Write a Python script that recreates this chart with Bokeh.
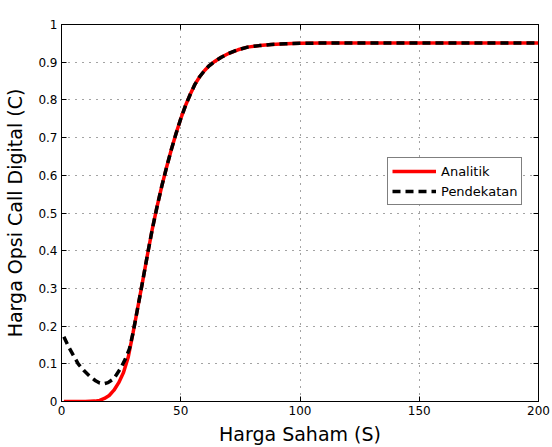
from bokeh.plotting import figure
from bokeh.models import (Range1d, FixedTicker, CustomJSTickFormatter, LinearAxis,
                          Legend, LegendItem)
from bokeh.embed import file_html
from bokeh.resources import INLINE

# ---- data ----
s_analitik = [1, 5, 10, 14, 16, 18, 20, 22, 24, 26, 28, 30, 32, 34, 36,
              38, 40, 42, 44, 46, 48, 50, 52, 54, 56, 58, 60, 62, 64, 67, 70, 74,
              78, 83, 88, 94, 100, 110, 125, 150, 175, 200]
c_analitik = [0, 0, 0, 0.001, 0.003, 0.008, 0.016, 0.03, 0.05, 0.077, 0.118, 0.182,
              0.25, 0.318, 0.388, 0.455, 0.515, 0.57, 0.62, 0.667, 0.71, 0.75, 0.785,
              0.815, 0.842, 0.862, 0.878, 0.891, 0.901, 0.913, 0.923, 0.933, 0.94,
              0.944, 0.947, 0.949, 0.95, 0.951, 0.951, 0.951, 0.951, 0.951]

s_pendekatan_low = [1, 3, 5, 7, 9.4, 12, 14.3, 16, 17.7, 19.5, 21.9, 24.7, 26.8, 28.5]
c_pendekatan_low = [0.172, 0.145, 0.122, 0.1, 0.082, 0.066, 0.055, 0.049, 0.047,
                    0.05, 0.06, 0.087, 0.113, 0.14]

x_ticks = [0, 50, 100, 150, 200]
y_ticks = [0, 0.1, 0.2, 0.3, 0.4, 0.5, 0.6, 0.7, 0.8, 0.9, 1]

# approximation coincides with analytic curve from S = 30 onward
s_pendekatan = s_pendekatan_low + [s for s in s_analitik if s >= 30]
c_pendekatan = c_pendekatan_low + [c for s, c in zip(s_analitik, c_analitik) if s >= 30]

FONT = "DejaVu Sans"

p = figure(frame_width=477, frame_height=377, output_backend="svg",
           toolbar_location=None, x_range=Range1d(0, 200), y_range=Range1d(0, 1),
           min_border_left=61, min_border_right=14, min_border_top=24,
           min_border_bottom=46, background_fill_color="white",
           border_fill_color="white")
p.outline_line_color = "black"
p.outline_line_width = 1

r1 = p.line(s_analitik, c_analitik, line_color="#ff0000", line_width=3.5)
r2 = p.line(s_pendekatan, c_pendekatan, line_color="black", line_width=3.5,
            line_dash="8 5")

fmt = CustomJSTickFormatter(code="return String(Math.round(tick*10)/10);")

for ax in (p.xaxis[0], p.yaxis[0]):
    ax.major_tick_in = 5
    ax.major_tick_out = 0
    ax.minor_tick_in = 0
    ax.minor_tick_out = 0
    ax.axis_line_color = "black"
    ax.major_tick_line_color = "black"
    ax.major_label_text_font = FONT
    ax.major_label_text_font_size = "12px"
    ax.major_label_text_color = "black"
    ax.axis_label_text_font = FONT
    ax.axis_label_text_font_size = "19px"
    ax.axis_label_text_font_style = "normal"
    ax.axis_label_text_color = "black"

p.xaxis[0].ticker = FixedTicker(ticks=x_ticks)
p.yaxis[0].ticker = FixedTicker(ticks=y_ticks)
p.yaxis[0].formatter = fmt
p.xaxis[0].axis_label = "Harga Saham (S)"
p.yaxis[0].axis_label = "Harga Opsi Call Digital (C)"
p.xaxis[0].major_label_standoff = 4
p.yaxis[0].major_label_standoff = 4
p.xaxis[0].axis_label_standoff = 5
p.yaxis[0].axis_label_standoff = 9

blank = CustomJSTickFormatter(code="return '';")
top = LinearAxis(ticker=FixedTicker(ticks=x_ticks), formatter=blank,
                 major_tick_in=5, major_tick_out=0, minor_tick_in=0, minor_tick_out=0,
                 axis_line_color="black", major_tick_line_color="black",
                 major_label_standoff=0)
right = LinearAxis(ticker=FixedTicker(ticks=y_ticks), formatter=blank,
                   major_tick_in=5, major_tick_out=0, minor_tick_in=0, minor_tick_out=0,
                   axis_line_color="black", major_tick_line_color="black",
                   major_label_standoff=0)
p.add_layout(top, "above")
p.add_layout(right, "right")

p.xgrid.ticker = FixedTicker(ticks=x_ticks)
p.ygrid.ticker = FixedTicker(ticks=y_ticks)
for g in (p.xgrid[0], p.ygrid[0]):
    g.grid_line_color = "#333333"
    g.grid_line_dash = "1 6"
    g.grid_line_width = 1
    g.grid_line_alpha = 0.9

legend = Legend(items=[LegendItem(label="Analitik", renderers=[r1]),
                       LegendItem(label="Pendekatan", renderers=[r2])],
                location=(326, 196))
legend.border_line_color = "black"
legend.border_line_width = 1
legend.background_fill_color = "white"
legend.background_fill_alpha = 1
legend.label_text_font = FONT
legend.label_text_font_size = "13px"
legend.label_text_color = "black"
legend.glyph_width = 44
legend.glyph_height = 18
legend.label_height = 18
legend.label_standoff = 5
legend.spacing = 2
legend.padding = 4
legend.margin = 0
p.add_layout(legend, "center")

open("out.html", "w").write(file_html(p, INLINE))
